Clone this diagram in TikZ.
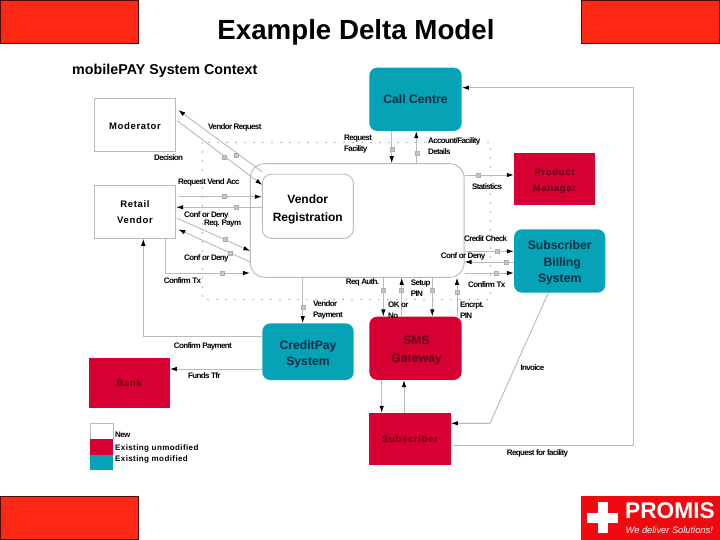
\documentclass[tikz,border=0pt]{standalone}
\usepackage{fontspec}
\setmainfont{Liberation Sans}
\newfontfamily\tightfont[LetterSpace=-8]{Liberation Sans}
\newfontfamily\keyfont[LetterSpace=5]{Liberation Sans}
\newfontfamily\widefont[LetterSpace=7]{Liberation Sans}
\usetikzlibrary{arrows.meta}
\definecolor{banner}{RGB}{255, 40, 20}
\definecolor{logored}{RGB}{240, 10, 15}
\definecolor{crimson}{RGB}{214, 0, 50}
\definecolor{teal}{RGB}{5, 163, 181}
\definecolor{wine}{RGB}{95, 0, 30}
\definecolor{navy}{RGB}{0, 45, 70}
\definecolor{edge}{RGB}{186, 186, 186}
\newcommand{\dropby}[2]{\raisebox{-#1pt}[0.7em][0.2em]{#2}}
\tikzset{
  flow/.style={edge, line width=0.9, -{Latex[black, length=7, width=4.5]}},
  tag/.style={font=\tightfont\bfseries\fontsize{8}{11}\selectfont, align=left, text=black, inner sep=0},
  key/.style={tag, font=\keyfont\bfseries\fontsize{8}{11}\selectfont},
  plain/.style={draw=edge, fill=white, line width=0.9, align=center, inner sep=0, text=black, font=\widefont\bfseries\fontsize{9.5}{16}\selectfont},
  old/.style={fill=crimson, align=center, inner sep=0, text=wine, font=\widefont\bfseries\fontsize{9.5}{16}\selectfont},
  oldsoft/.style={old, rounded corners=8, font=\bfseries\fontsize{12.2}{18}\selectfont},
  mod/.style={fill=teal, rounded corners=8, align=center, inner sep=0, text=navy, font=\bfseries\fontsize{12.2}{16.5}\selectfont},
  banner/.style={draw=black!70!banner, fill=banner, line width=0.9, minimum width=138.5, minimum height=43.5, inner sep=0},
  marker/.style={fill=black!22, draw=black!32, line width=0.4},
}
\begin{document}
\begin{tikzpicture}[x=1pt, y=-1pt]
  \useasboundingbox (0, 0) rectangle (720, 540);
  \fill[white] (0, 0) rectangle (720, 540);

  % corner banners
  \node[banner] (bannerTL) at (69.5, 22) {};
  \node[banner] (bannerTR) at (650.5, 22) {};
  \node[banner] (bannerBL) at (69.5, 518) {};
  \node[banner, draw=none, fill=logored, minimum width=139, minimum height=44] (bannerBR) at (650.5, 518) {};

  \fill[white] (598, 502) rectangle (607.5, 533);
  \fill[white] (587, 513) rectangle (617.5, 523);
  \node[white, anchor=west, inner sep=0, font=\bfseries\fontsize{22.7}{24}\selectfont] (promis) at (625, 511) {PROMIS};
  \node[white, anchor=west, inner sep=0, font=\itshape\fontsize{9.3}{10}\selectfont] (slogan) at (625.5, 530.5) {We deliver Solutions!};

  \node[anchor=base, font=\bfseries\fontsize{27.7}{30}\selectfont, inner sep=0] (title) at (356, 39.5) {Example Delta Model};
  \node[anchor=west, inner sep=0, font=\bfseries\fontsize{14.3}{16}\selectfont] (context) at (72, 71) {mobilePAY System Context};

  % system boundary
  \draw[black!28, line width=0.8, dash pattern=on 2 off 7] (202, 142) rectangle (490, 299);

  % actors
  \node[plain, minimum width=81.4, minimum height=52.7] (moderator) at (135, 124.7) {\dropby{2.5}{Moderator}};
  \node[plain, minimum width=81.4, minimum height=52.6] (retail) at (135, 212) {\dropby{1}{Retail}\\\dropby{1}{Vendor}};
  \node[plain, rounded corners=14, minimum width=213.7, minimum height=113.6] (outer) at (357.2, 220.5) {};
  \node[plain, rounded corners=9, minimum width=91, minimum height=64, font=\bfseries\fontsize{12}{17.5}\selectfont] (vendor) at (307.8, 206.3) {\dropby{3}{Vendor}\\\dropby{3}{Registration}};
  \node[mod, minimum width=92.4, minimum height=63.3] (call) at (415.5, 99.3) {Call Centre};
  \node[old, minimum width=81, minimum height=52] (product) at (554.5, 179.3) {\dropby{2}{Product}\\\dropby{2}{Manager}};
  \node[mod, minimum width=91.3, minimum height=63.4] (billing) at (559.7, 261) {\dropby{2}{Subscriber}\\\hspace*{5pt}\dropby{2}{Billing}\\\dropby{2}{System}};
  \node[mod, minimum width=91.4, minimum height=56.7] (credit) at (308, 351.7) {\dropby{2.5}{CreditPay}\\\dropby{2.5}{System}};
  \node[oldsoft, minimum width=92.4, minimum height=63.3] (sms) at (415.5, 348.3) {\hspace*{2pt}\dropby{2}{SMS}\\\hspace*{2pt}\dropby{2}{Gateway}};
  \node[old, minimum width=81.4, minimum height=52] (subscriber) at (410, 439) {Subscriber};
  \node[old, minimum width=81, minimum height=50.3] (bank) at (129.2, 383.2) {\dropby{1}{Bank}};

  % free ends
  \coordinate (reqA) at (262, 171.7);
  \coordinate (reqB) at (178.3, 110);
  \coordinate (decA) at (177.3, 120.7);
  \coordinate (decB) at (262.3, 185);
  \coordinate (acc) at (0, 196.7);
  \coordinate (cfd) at (0, 207.3);
  \coordinate (payA) at (177.3, 218.3);
  \coordinate (payB) at (250.3, 251);
  \coordinate (cfdA) at (250.3, 262);
  \coordinate (cfdB) at (178.3, 229.3);
  \coordinate (txA) at (165.7, 273);
  \coordinate (txB) at (143.3, 336.3);
  \coordinate (fund) at (0, 369);
  \coordinate (vpay) at (302.7, 0);
  \coordinate (rqf) at (391.7, 0);
  \coordinate (acf) at (416.3, 0);
  \coordinate (stat) at (0, 175);
  \coordinate (chk) at (0, 251.3);
  \coordinate (dny) at (0, 262);
  \coordinate (ctx) at (0, 273);
  \coordinate (auth) at (383.3, 0);
  \coordinate (okno) at (401.7, 0);
  \coordinate (setup) at (432.3, 0);
  \coordinate (enc) at (457, 0);
  \coordinate (down) at (381.7, 0);
  \coordinate (up) at (404, 0);
  \coordinate (invA) at (548.3, 292.7);
  \coordinate (invB) at (490, 423.3);
  \coordinate (rfA) at (633.7, 445.3);
  \coordinate (rfB) at (633.7, 87.7);

  % connectors
  \draw[flow] (reqA) -- (reqB);
  \draw[flow] (decA) -- (decB);
  \draw[flow] (retail.east |- acc) ++(1.5, 0) -- (vendor.west |- acc);
  \draw[flow] (vendor.west |- cfd) -- (retail.east |- cfd);
  \draw[flow] (payA) -- (payB);
  \draw[flow] (cfdA) -- (cfdB);
  \draw[flow] (retail.south -| txA) -- (txA) -- (outer.west |- txA);
  \draw[flow] (credit.west |- txB) -- (txB) -- (retail.south -| txB);
  \draw[flow] (credit.west |- fund) -- (bank.east |- fund);
  \draw[flow] (outer.south -| vpay) -- (credit.north -| vpay);
  \draw[flow] (call.south -| rqf) -- (outer.north -| rqf);
  \draw[flow] (outer.north -| acf) -- (call.south -| acf);
  \draw[flow] (outer.east |- stat) -- (product.west |- stat);
  \draw[flow] (outer.east |- chk) -- (billing.west |- chk);
  \draw[flow] (billing.west |- dny) -- (outer.east |- dny);
  \draw[flow] (outer.east |- ctx) -- (billing.west |- ctx);
  \draw[flow] (outer.south -| auth) -- (sms.north -| auth);
  \draw[flow] (sms.north -| okno) -- (outer.south -| okno);
  \draw[flow] (outer.south -| setup) -- (sms.north -| setup);
  \draw[flow] (sms.north -| enc) -- (outer.south -| enc);
  \draw[flow] (sms.south -| down) -- (subscriber.north -| down);
  \draw[flow] (subscriber.north -| up) -- (sms.south -| up);
  \draw[flow] (invA) -- (invB) -- (subscriber.east |- invB);
  \draw[flow] (subscriber.east |- rfA) ++(2.5, 0) -- (rfA) -- (rfB) -- (call.east |- rfB);

  \foreach \x/\y in {235.7/155, 224/157.3, 224/196.7, 236/207.3, 225/239, 230.3/253.3, 221.7/273,
                     302.7/307.3, 392.3/149.3, 416.7/153, 478.3/175, 497/251.3, 506/262, 495.7/273,
                     383.3/290.3, 400.7/290.3, 432.3/290.3, 457/292.3} {
    \draw[marker] (\x - 2, \y - 2) rectangle (\x + 2, \y + 2);
  }

  % labels
  \node[tag, anchor=west] (lblA) at (208, 127.3) {Vendor Request};
  \node[tag, anchor=west] (lblB) at (154, 158) {Decision};
  \node[tag, anchor=west] (lblC) at (178, 182) {Request Vend Acc};
  \node[tag, anchor=west] (lblD) at (184, 215) {Conf or Deny};
  \node[tag, anchor=west] (lblE) at (204, 223.7) {Req. Paym};
  \node[tag, anchor=west] (lblF) at (184, 258.3) {Conf or Deny};
  \node[tag, anchor=west] (lblG) at (163.7, 280.3) {Confirm Tx};
  \node[tag, anchor=west] (lblH) at (344, 143.8) {Request\\Facility};
  \node[tag, anchor=west] (lblI) at (428, 146.2) {Account/Facility\\Details};
  \node[tag, anchor=west] (lblJ) at (472, 186.3) {Statistics};
  \node[tag, anchor=west] (lblK) at (464, 238.7) {Credit Check};
  \node[tag, anchor=west] (lblL) at (440.7, 256.3) {Conf or Deny};
  \node[tag, anchor=west] (lblM) at (468, 284.7) {Confirm Tx};
  \node[tag, anchor=west] (lblN) at (345.7, 282.3) {Req Auth.};
  \node[tag, anchor=west] (lblO) at (410.7, 287.8) {Setup\\PIN};
  \node[tag, anchor=west] (lblP) at (388, 309.8) {OK or\\No};
  \node[tag, anchor=west] (lblQ) at (460, 309.8) {Encrpt.\\PIN};
  \node[tag, anchor=west] (lblR) at (313, 309.8) {Vendor\\Payment};
  \node[tag, anchor=west] (lblS) at (173.7, 346) {Confirm Payment};
  \node[tag, anchor=west] (lblT) at (188, 376) {Funds Tfr};
  \node[tag, anchor=west] (lblU) at (520.3, 367.3) {Invoice};
  \node[tag, anchor=west] (lblV) at (506.7, 453) {Request for facility};

  % legend
  \draw[edge, fill=white, line width=0.8] (90.3, 423.3) rectangle (113, 439);
  \fill[crimson] (90.3, 439) rectangle (113, 454.7);
  \fill[teal] (90.3, 454.7) rectangle (113, 469.7);
  \node[tag, anchor=west] (keyA) at (115, 435) {New};
  \node[key, anchor=west] (keyB) at (115, 448.7) {Existing unmodified};
  \node[key, anchor=west] (keyC) at (115, 459.3) {Existing modified};
\end{tikzpicture}
\end{document}
